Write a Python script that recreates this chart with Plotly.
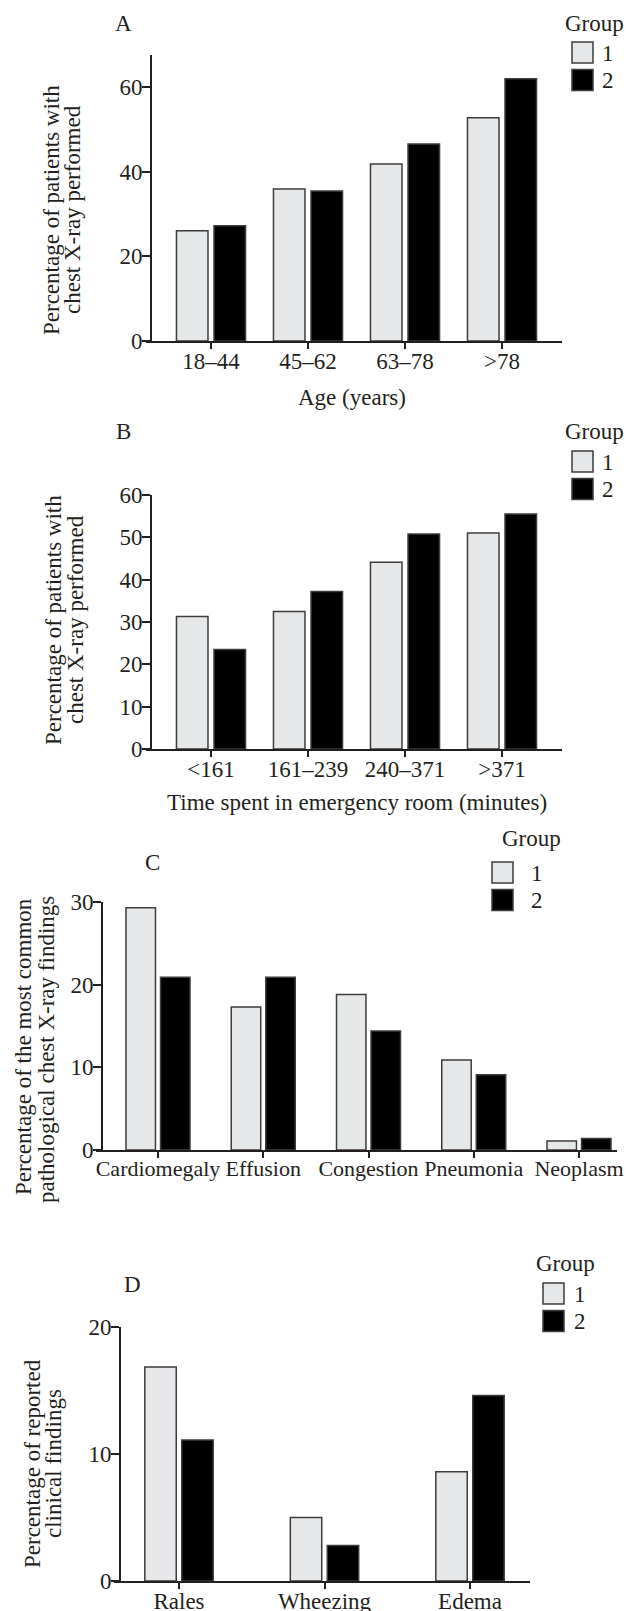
import plotly.graph_objects as go

W, H = 632, 1611

# ---------------- data ----------------
age_groups = ["18–44", "45–62", "63–78", ">78"]
age_g1 = [26.0, 35.9, 41.8, 52.7]
age_g2 = [27.2, 35.4, 46.5, 61.9]

er_time = ["<161", "161–239", "240–371", ">371"]
er_g1 = [31.3, 32.5, 44.1, 51.0]
er_g2 = [23.5, 37.2, 50.8, 55.5]

xray_findings = ["Cardiomegaly", "Effusion", "Congestion", "Pneumonia", "Neoplasm"]
xray_g1 = [29.3, 17.3, 18.8, 10.9, 1.1]
xray_g2 = [20.9, 20.9, 14.4, 9.1, 1.4]

clinical = ["Rales", "Wheezing", "Edema"]
clin_g1 = [16.85, 5.0, 8.6]
clin_g2 = [11.1, 2.8, 14.6]

group_names = ["1", "2"]

# ---------------- style ----------------
FONT = "Liberation Serif"
TXT = "#231f20"
FS = 23
G1_FILL = "#e6e7e8"
G2_FILL = "#000000"
EDGE = "#3d3d3d"


def px(x):
    return x / W


def py(y):
    return 1 - y / H


fig = go.Figure()

panels = [
    dict(cats=age_groups, g1=age_g1, g2=age_g2, s="", xl=146, ya=151, xr=562,
         yt=55, yb=341, yr=[0, 67.5], tv=[0, 20, 40, 60], t0=211, sp=97.0,
         slot=0.387, bw=0.325, xfs=FS),
    dict(cats=er_time, g1=er_g1, g2=er_g2, s="2", xl=146, ya=151, xr=562,
         yt=495, yb=749, yr=[0, 60], tv=[0, 10, 20, 30, 40, 50, 60], t0=211, sp=97.0,
         slot=0.387, bw=0.325, xfs=FS),
    dict(cats=xray_findings, g1=xray_g1, g2=xray_g2, s="3", xl=96, ya=102, xr=617,
         yt=902, yb=1150, yr=[0, 30], tv=[0, 10, 20, 30], t0=158, sp=105.25,
         slot=0.328, bw=0.28, xfs=22),
    dict(cats=clinical, g1=clin_g1, g2=clin_g2, s="4", xl=114, ya=120, xr=530,
         yt=1327, yb=1581, yr=[0, 20], tv=[0, 10, 20], t0=179, sp=145.5,
         slot=0.254, bw=0.216, xfs=FS),
]

layout_axes = {}
for p in panels:
    s = p["s"]
    xa = "x" + s
    ya = "y" + s
    for gi, (vals, fill) in enumerate([(p["g1"], G1_FILL), (p["g2"], G2_FILL)]):
        off = (-p["slot"] / 2 if gi == 0 else p["slot"] / 2) - p["bw"] / 2
        fig.add_trace(go.Bar(
            x=p["cats"], y=vals, name=group_names[gi],
            width=p["bw"], offset=off,
            marker=dict(color=fill, line=dict(color=EDGE, width=1.5)),
            xaxis=xa, yaxis=ya, showlegend=False,
        ))
    left = (p["xl"] - p["t0"]) / p["sp"]
    right = (p["xr"] - p["t0"]) / p["sp"]
    layout_axes["xaxis" + s] = dict(
        domain=[px(p["xl"]), px(p["xr"])], anchor=ya, type="category",
        range=[left, right], showline=True, linecolor=TXT, linewidth=2,
        ticks="outside", ticklen=6, tickwidth=2, tickcolor=TXT, tickangle=0,
        tickfont=dict(family=FONT, size=p["xfs"], color=TXT),
        showgrid=False, zeroline=False, automargin=False, ticklabelstandoff=-8,
    )
    layout_axes["yaxis" + s] = dict(
        domain=[py(p["yb"]), py(p["yt"])], anchor="free", position=px(p["ya"]),
        range=p["yr"], tickvals=p["tv"], showline=True, linecolor=TXT, linewidth=2,
        ticks="outside", ticklen=8, tickwidth=2, tickcolor=TXT,
        tickfont=dict(family=FONT, size=FS, color=TXT),
        showgrid=False, zeroline=False, ticklabelstandoff=-5, automargin=False,
    )

fig.update_layout(**layout_axes)

annotations = []


def text(t, x, y, angle=0, size=FS):
    annotations.append(dict(
        text=t, x=px(x), y=py(y), xref="paper", yref="paper",
        showarrow=False, textangle=angle, xanchor="center", yanchor="middle",
        font=dict(family=FONT, size=size, color=TXT),
    ))


# panel letters
text("A", 123, 24)
text("B", 123, 432)
text("C", 152, 862)
text("D", 132, 1284)

# axis titles (x)
text("Age (years)", 352, 398)
text("Time spent in emergency room (minutes)", 357, 802)

# y titles (two lines each)
text("Percentage of patients with", 52, 210, -90)
text("chest X-ray performed", 73, 210, -90)
text("Percentage of patients with", 53, 620, -90)
text("chest X-ray performed", 75, 620, -90)
text("Percentage of the most common", 23, 1047, -90)
text("pathological chest X-ray findings", 46, 1050, -90)
text("Percentage of reported", 32, 1464, -90)
text("clinical findings", 53, 1464, -90)

# legends (drawn manually)
shapes = []
legends = [
    dict(gx=594, gy=23, sx=572, s1=42, lab_x=608),
    dict(gx=594, gy=432, sx=572, s1=451, lab_x=608),
    dict(gx=531, gy=839, sx=492, s1=862, lab_x=537),
    dict(gx=565, gy=1263, sx=543, s1=1283, lab_x=580),
]
for lg in legends:
    text("Group", lg["gx"], lg["gy"])
    for i, fill in enumerate([G1_FILL, G2_FILL]):
        y0 = lg["s1"] + i * 27.5
        shapes.append(dict(
            type="rect", xref="paper", yref="paper",
            x0=px(lg["sx"]), x1=px(lg["sx"] + 21), y0=py(y0 + 21), y1=py(y0),
            fillcolor=fill, line=dict(color=EDGE, width=1.5),
        ))
        text(group_names[i], lg["lab_x"], y0 + 11)

fig.update_layout(
    width=W, height=H, margin=dict(l=0, r=0, t=0, b=0, autoexpand=False),
    paper_bgcolor="white", plot_bgcolor="white",
    annotations=annotations, shapes=shapes, showlegend=False,
    font=dict(family=FONT, size=FS, color=TXT),
)

fig.write_html("out.html", config={"displayModeBar": False},
               post_script="document.body.style.margin='0px';")
